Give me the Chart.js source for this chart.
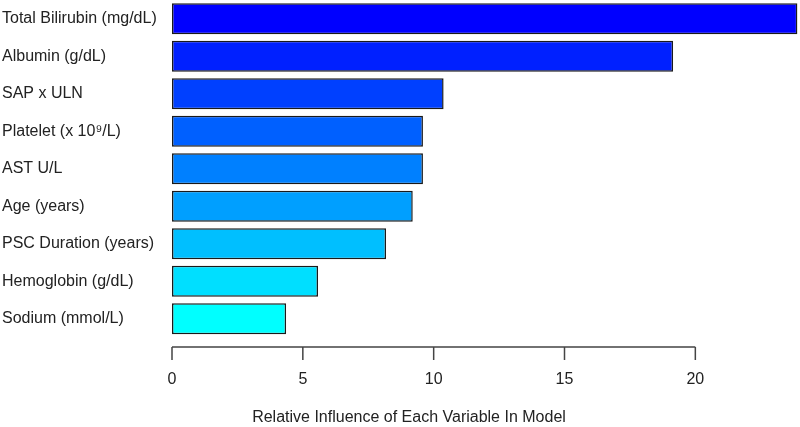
<!DOCTYPE html>
<html>
<head>
<meta charset="utf-8">
<title>Relative influence</title>
<script src="https://cdn.jsdelivr.net/npm/chart.js@4/dist/chart.umd.min.js"></script>
<style>
  html, body { margin: 0; padding: 0; background: #fff; }
  canvas { display: block; }
</style>
</head>
<body>
<canvas id="chart" width="800" height="427"></canvas>
<script>
/* relative influence bar chart (R barplot look) */

const variables = [
  'Total Bilirubin (mg/dL)',
  'Albumin (g/dL)',
  'SAP x ULN',
  'Platelet (x 10⁹/L)',
  'AST U/L',
  'Age (years)',
  'PSC Duration (years)',
  'Hemoglobin (g/dL)',
  'Sodium (mmol/L)'
];
const influence = [23.9, 19.15, 10.38, 9.59, 9.59, 9.2, 8.18, 5.58, 4.36];
const barColors = [
  '#0000FF', '#0020FF', '#0040FF', '#0060FF', '#0080FF',
  '#009FFF', '#00BFFF', '#00DFFF', '#00FFFF'
];
const xTicks = [0, 5, 10, 15, 20];
const xTitle = 'Relative Influence of Each Variable In Model';

const FONT = 'Liberation Sans, Arial, sans-serif';

// R-style axis: line only across the tick range, ticks hanging down
const rAxis = {
  id: 'rAxis',
  afterDraw(chart) {
    const {ctx, chartArea, scales: {x}} = chart;
    const y0 = Math.round(chartArea.bottom + 9.5);
    const x0 = x.getPixelForValue(xTicks[0]);
    const x1 = x.getPixelForValue(xTicks[xTicks.length - 1]);
    ctx.save();
    ctx.strokeStyle = '#444';
    ctx.lineWidth = 1.5;
    ctx.beginPath();
    ctx.moveTo(x0, y0);
    ctx.lineTo(x1, y0);
    xTicks.forEach(v => {
      const px = x.getPixelForValue(v);
      ctx.moveTo(px, y0);
      ctx.lineTo(px, y0 + 13);
    });
    ctx.stroke();
    ctx.fillStyle = '#222';
    ctx.font = '16px ' + FONT;
    ctx.textAlign = 'center';
    ctx.textBaseline = 'middle';
    ctx.fillText(xTitle, 409, 418);
    ctx.restore();
  }
};

new Chart(document.getElementById('chart'), {
  type: 'bar',
  data: {
    labels: variables,
    datasets: [{
      data: influence,
      backgroundColor: barColors,
      borderColor: '#1a1a1a',
      borderWidth: 1.5,
      borderSkipped: false,
      barPercentage: 0.83,
      categoryPercentage: 1
    }]
  },
  options: {
    indexAxis: 'y',
    responsive: false,
    animation: false,
    devicePixelRatio: 1,
    layout: {padding: {left: 2, top: -1, right: 0, bottom: 0}},
    plugins: {
      legend: {display: false},
      tooltip: {enabled: false},
      title: {display: false}
    },
    scales: {
      x: {
        min: 0,
        max: 24,
        grid: {display: false, drawTicks: false},
        border: {display: false},
        afterBuildTicks: (s) => { s.ticks = xTicks.map(v => ({value: v})); },
        afterFit: (s) => { s.height = 89.5; },
        ticks: {
          padding: 32,
          color: '#222',
          font: {family: FONT, size: 16}
        }
      },
      y: {
        grid: {display: false, drawTicks: false},
        border: {display: false},
        afterFit: (s) => {
          s.width = 170;
          s.paddingTop = 0;
          s.paddingBottom = 0;
        },
        ticks: {
          crossAlign: 'far',
          padding: 0,
          color: '#222',
          font: {family: FONT, size: 16}
        }
      }
    }
  },
  plugins: [rAxis]
});
</script>
</body>
</html>
